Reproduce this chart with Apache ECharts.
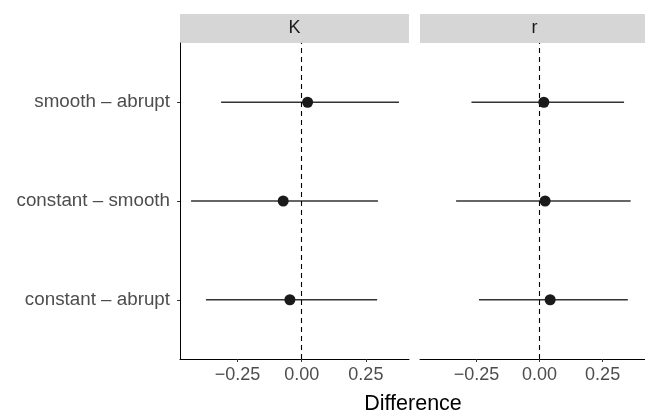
<!DOCTYPE html>
<html>
<head>
<meta charset="utf-8">
<script src="https://cdn.jsdelivr.net/npm/echarts@6/dist/echarts.min.js"></script>
<style>
html,body{margin:0;padding:0;background:#fff;}
#chart{width:645px;height:413px;}
</style>
</head>
<body>
<div id="chart"></div>
<script>
// ---- data ----
var categories = ['constant – abrupt', 'constant – smooth', 'smooth – abrupt'];
var panels = ['K', 'r'];
var K_est  = [-0.046, -0.072, 0.023];
var K_low  = [-0.373, -0.431, -0.314];
var K_high = [0.294, 0.297, 0.379];
var r_est  = [0.042, 0.022, 0.017];
var r_low  = [-0.240, -0.331, -0.270];
var r_high = [0.350, 0.361, 0.335];
var xTicks = [-0.25, 0, 0.25];
var xTickLabels = ['\u22120.25', '0.00', '0.25'];
var xTitle = 'Difference';

var FONT = '"Liberation Sans", Arial, Helvetica, sans-serif';
var chart = echarts.init(document.getElementById('chart'), null, {renderer: 'canvas'});

function pts(est) { return est.map(function (v, i) { return [v, i + 1]; }); }
function bars(low, high) { return low.map(function (v, i) { return [v, high[i], i + 1]; }); }

var grids = [
  {left: 180, top: 43, width: 229, height: 316},
  {left: 420, top: 43, width: 229, height: 316}
];

function xAxis(idx) {
  return {
    type: 'value', gridIndex: idx, min: -0.474, max: 0.418,
    splitLine: {show: false},
    axisLine: {show: true, onZero: false, lineStyle: {color: '#000', width: 1}},
    axisTick: {show: true, length: 3, lineStyle: {color: '#333', width: 1}, customValues: xTicks},
    axisLabel: {
      customValues: xTicks, margin: 7, color: '#4d4d4d', fontSize: 18, fontFamily: FONT,
      formatter: function (v) {
        for (var i = 0; i < xTicks.length; i++) if (Math.abs(v - xTicks[i]) < 1e-9) return xTickLabels[i];
        return '';
      }
    }
  };
}
function yAxis(idx, show) {
  return {
    type: 'value', gridIndex: idx, min: 0.4, max: 3.6,
    splitLine: {show: false},
    axisLine: {show: show, onZero: false, lineStyle: {color: '#000', width: 1}},
    axisTick: {show: show, length: 3, lineStyle: {color: '#333', width: 1}, customValues: [1, 2, 3]},
    axisLabel: {
      show: show, customValues: [1, 2, 3], margin: 10, color: '#4d4d4d', fontSize: 18.8, fontFamily: FONT,
      formatter: function (v) { return categories[Math.round(v) - 1] || ''; }
    }
  };
}

function errSeries(idx, low, high) {
  return {
    type: 'custom', xAxisIndex: idx, yAxisIndex: idx, z: 2,
    data: bars(low, high),
    encode: {x: [0, 1], y: 2},
    renderItem: function (params, api) {
      var a = api.coord([api.value(0), api.value(2)]);
      var b = api.coord([api.value(1), api.value(2)]);
      return {type: 'line', shape: {x1: a[0], y1: a[1], x2: b[0], y2: b[1]},
              style: {stroke: '#333', lineWidth: 1.4}};
    },
    markLine: {
      silent: true, symbol: ['none', 'none'], animation: false,
      label: {show: false},
      lineStyle: {type: [5, 4], color: '#000', width: 1.1},
      data: [{xAxis: 0}]
    }
  };
}
function ptSeries(idx, est) {
  return {
    type: 'scatter', xAxisIndex: idx, yAxisIndex: idx, z: 5,
    data: pts(est), symbol: 'circle', symbolSize: 11,
    itemStyle: {color: '#1a1a1a', opacity: 1}
  };
}

var graphics = [];
grids.forEach(function (g, i) {
  graphics.push({type: 'rect', shape: {x: g.left, y: 14, width: g.width, height: 29},
                 style: {fill: '#d6d6d6'}, z: 0, silent: true});
  graphics.push({type: 'text', x: g.left + g.width / 2, y: 28.5,
                 style: {text: panels[i], fill: '#1a1a1a', font: '18px ' + FONT,
                         textAlign: 'center', textVerticalAlign: 'middle'}, z: 1, silent: true});
});
graphics.push({type: 'text', x: 413, y: 404,
               style: {text: xTitle, fill: '#000', font: '21.5px ' + FONT,
                       textAlign: 'center', textVerticalAlign: 'middle'}, silent: true});

chart.setOption({
  animation: false,
  backgroundColor: '#fff',
  grid: grids,
  xAxis: [xAxis(0), xAxis(1)],
  yAxis: [yAxis(0, true), yAxis(1, false)],
  series: [
    errSeries(0, K_low, K_high), ptSeries(0, K_est),
    errSeries(1, r_low, r_high), ptSeries(1, r_est)
  ],
  graphic: graphics
});
</script>
</body>
</html>
